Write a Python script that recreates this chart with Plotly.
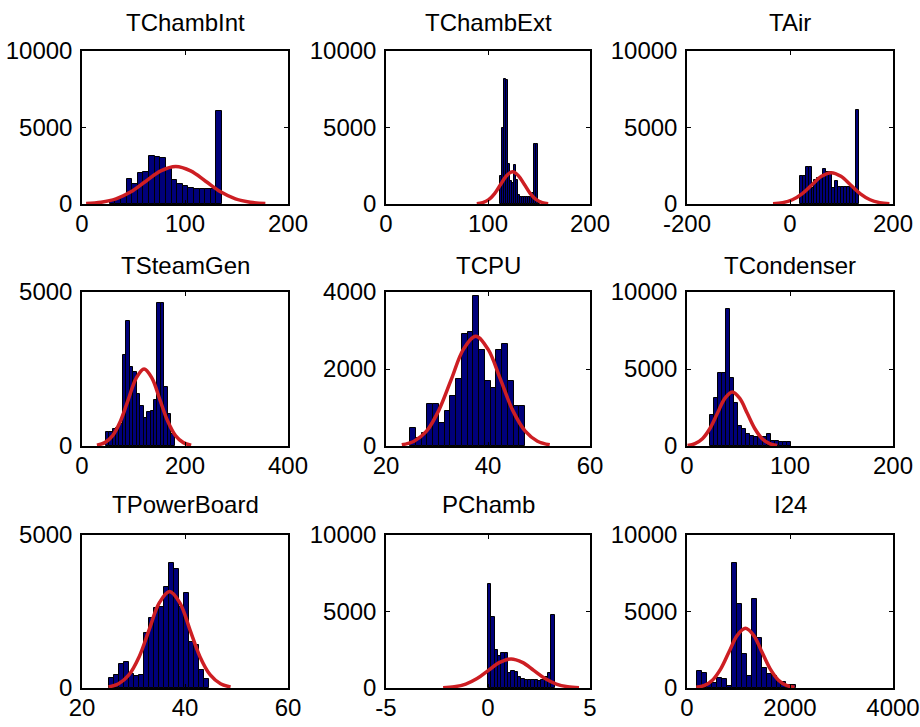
import plotly.graph_objects as go

# ---------------- data ----------------
titles = ["TChambInt", "TChambExt", "TAir",
          "TSteamGen", "TCPU", "TCondenser",
          "TPowerBoard", "PChamb", "I24"]

# histogram data range (min, max) of each panel; 20 bins each
bin_ranges = [(27, 136), (111.7, 151.1), (19, 133),
              (46, 180), (24.7, 47.3), (22, 101),
              (25.3, 44.7), (0, 3.26), (200, 2123)]

counts_tchambint = [250, 350, 450, 1650, 1300, 2000, 2100, 3150, 3100, 3000,
                    2300, 1600, 1300, 1150, 1050, 1000, 950, 1000, 1000, 6100]
counts_tchambext = [1800, 5000, 8200, 8100, 2600, 1500, 1400, 2550, 1570, 600,
                    480, 480, 480, 480, 480, 480, 700, 3950, 3900, 100]
counts_tair = [1850, 1850, 2400, 2400, 1050, 1600, 1700, 1700, 2300, 2100,
               2100, 1050, 1500, 1100, 1100, 1100, 1100, 1100, 1050, 6150]
counts_tsteamgen = [450, 450, 550, 600, 700, 2950, 4050, 2550, 2400, 1700,
                    1300, 900, 1100, 1150, 1500, 4650, 4650, 1900, 1050, 400]
counts_tcpu = [480, 200, 350, 1100, 1100, 600, 900, 1300, 1750, 2900,
               2950, 3900, 2500, 1700, 1500, 2500, 2650, 1700, 1050, 1050]
counts_tcondenser = [2000, 3100, 4750, 4750, 8900, 4400, 2800, 1300, 1100, 800,
                     650, 600, 600, 600, 780, 350, 300, 280, 280, 250]
counts_tpowerboard = [330, 420, 800, 850, 450, 380, 420, 1800, 2300, 2600,
                      2650, 3300, 4100, 3900, 2650, 3100, 1500, 1400, 600, 280]
counts_pchamb = [6800, 4650, 2500, 2100, 2300, 2300, 1000, 1100, 1050, 750,
                 600, 550, 500, 500, 500, 480, 500, 700, 1000, 4800]
counts_i24 = [1100, 1000, 300, 350, 650, 600, 150, 8200, 5500, 2200,
              800, 5800, 3300, 1300, 900, 800, 450, 400, 220, 200]

all_counts = [counts_tchambint, counts_tchambext, counts_tair,
              counts_tsteamgen, counts_tcpu, counts_tcondenser,
              counts_tpowerboard, counts_pchamb, counts_i24]

# fitted normal curves
fit_x_tchambint = [4, 18.5, 33, 47.5, 62, 76.5, 91, 105.5, 120, 134.5, 149, 163.5, 178]
fit_y_tchambint = [27, 108, 331, 795, 1486, 2162, 2450, 2162, 1486, 795, 331, 108, 27]
fit_x_tchambext = [89, 94.8, 100.7, 106.5, 112.3, 118.2, 124, 129.8, 135.7, 141.5, 147.3, 153.2, 159]
fit_y_tchambext = [23, 92, 284, 682, 1274, 1853, 2100, 1853, 1274, 682, 284, 92, 23]
fit_x_tair = [-33, -14.2, 4.5, 23.3, 42.2, 61.1, 80, 98.9, 117.8, 136.7, 155.5, 174.3, 193]
fit_y_tair = [23, 90, 277, 666, 1243, 1809, 2050, 1809, 1243, 666, 277, 90, 23]
fit_x_tsteamgen = [29, 44.3, 59.5, 74.8, 90, 105.3, 120.5, 135.8, 151, 166.3, 181.5, 196.8, 212]
fit_y_tsteamgen = [28, 110, 339, 812, 1516, 2206, 2500, 2206, 1516, 812, 339, 110, 28]
fit_x_tcpu = [23.1, 25.5, 27.95, 30.35, 32.8, 35.2, 37.6, 40.0, 42.45, 44.85, 47.3, 49.7, 52.1]
fit_y_tcpu = [31, 125, 385, 925, 1729, 2515, 2850, 2515, 1729, 925, 385, 125, 31]
fit_x_tcondenser = [0.5, 7.75, 15, 22.25, 29.5, 36.75, 44, 51.25, 58.5, 65.75, 73, 80.25, 87.5]
fit_y_tcondenser = [39, 154, 474, 1136, 2123, 3089, 3500, 3089, 2123, 1136, 474, 154, 39]
fit_x_tpowerboard = [25.15, 27.1, 29.1, 31.1, 33.05, 35.0, 37.0, 39.0, 40.95, 42.9, 44.9, 46.9, 48.85]
fit_y_tpowerboard = [35, 138, 426, 1023, 1911, 2780, 3150, 2780, 1911, 1023, 426, 138, 35]
fit_x_pchamb = [-2.2, -1.65, -1.09, -0.535, 0.02, 0.575, 1.13, 1.685, 2.24, 2.795, 3.35, 3.905, 4.46]
fit_y_pchamb = [21, 83, 258, 617, 1152, 1676, 1900, 1676, 1152, 617, 258, 83, 21]
fit_x_i24 = [181, 340, 499, 658, 817, 976, 1135, 1294, 1453, 1612, 1771, 1930, 2089]
fit_y_i24 = [43, 172, 530, 1266, 2366, 3442, 3900, 3442, 2366, 1266, 530, 172, 43]

fits_x = [fit_x_tchambint, fit_x_tchambext, fit_x_tair, fit_x_tsteamgen, fit_x_tcpu,
          fit_x_tcondenser, fit_x_tpowerboard, fit_x_pchamb, fit_x_i24]
fits_y = [fit_y_tchambint, fit_y_tchambext, fit_y_tair, fit_y_tsteamgen, fit_y_tcpu,
          fit_y_tcondenser, fit_y_tpowerboard, fit_y_pchamb, fit_y_i24]

x_ranges = [(0, 200), (0, 200), (-200, 200),
            (0, 400), (20, 60), (0, 200),
            (20, 60), (-5, 5), (0, 4000)]
x_ticks = [[0, 100, 200], [0, 100, 200], [-200, 0, 200],
           [0, 200, 400], [20, 40, 60], [0, 100, 200],
           [20, 40, 60], [-5, 0, 5], [0, 2000, 4000]]
y_ranges = [(0, 10000), (0, 10000), (0, 10000),
            (0, 5000), (0, 4000), (0, 10000),
            (0, 5000), (0, 10000), (0, 10000)]
y_ticks = [[0, 5000, 10000], [0, 5000, 10000], [0, 5000, 10000],
           [0, 5000], [0, 2000, 4000], [0, 5000, 10000],
           [0, 5000], [0, 5000, 10000], [0, 5000, 10000]]

# ---------------- layout geometry (pixels) ----------------
W, H = 920, 727
col_px = [(82, 288), (386, 590), (687, 893)]
row_px = [(51, 204), (292, 446), (535, 688)]
title_px = [23, 265, 505]

FONT = "Liberation Sans, Arial, sans-serif"
FS = 24
BAR_COLOR = "#00007a"
LINE_COLOR = "rgb(205,30,35)"


def label(v):
    return str(v)  # plain hyphen-minus, no SI suffixes


fig = go.Figure()
layout = dict(width=W, height=H, margin=dict(l=0, r=0, t=0, b=0, autoexpand=False),
              paper_bgcolor="white", plot_bgcolor="white",
              showlegend=False, bargap=0, annotations=[])

for i in range(9):
    r, c = divmod(i, 3)
    k = "" if i == 0 else str(i + 1)
    lo, hi = bin_ranges[i]
    nb = len(all_counts[i])
    w = (hi - lo) / nb
    centers = [lo + w * (j + 0.5) for j in range(nb)]
    fig.add_trace(go.Bar(x=centers, y=all_counts[i], width=w,
                         marker=dict(color=BAR_COLOR, line=dict(color="black", width=1)),
                         xaxis="x" + k, yaxis="y" + k))
    fig.add_trace(go.Scatter(x=fits_x[i], y=fits_y[i], mode="lines",
                             line=dict(color=LINE_COLOR, width=3.5, shape="spline", smoothing=1.0),
                             xaxis="x" + k, yaxis="y" + k))
    x0, x1 = col_px[c]
    y0, y1 = row_px[r]
    common = dict(showgrid=False, zeroline=False, showline=True, linecolor="black",
                  linewidth=1.5, mirror="allticks", ticks="inside", ticklen=4,
                  tickcolor="black", tickwidth=1, automargin=False, tickmode="array",
                  tickfont=dict(family=FONT, size=FS, color="black"))
    layout["xaxis" + k] = dict(domain=[x0 / W, x1 / W], range=list(x_ranges[i]),
                               tickvals=x_ticks[i], ticktext=[label(v) for v in x_ticks[i]],
                               anchor="y" + k, ticklabelstandoff=-3, **common)
    layout["yaxis" + k] = dict(domain=[1 - y1 / H, 1 - y0 / H], range=list(y_ranges[i]),
                               tickvals=y_ticks[i], ticktext=[label(v) for v in y_ticks[i]],
                               anchor="x" + k, ticklabelstandoff=3, **common)
    layout["annotations"].append(dict(text=titles[i], x=(x0 + x1) / 2 / W, y=1 - title_px[r] / H,
                                      xref="paper", yref="paper", xanchor="center", yanchor="middle",
                                      showarrow=False, font=dict(family=FONT, size=FS, color="black")))

fig.update_layout(**layout)
fig.write_html("out.html")
